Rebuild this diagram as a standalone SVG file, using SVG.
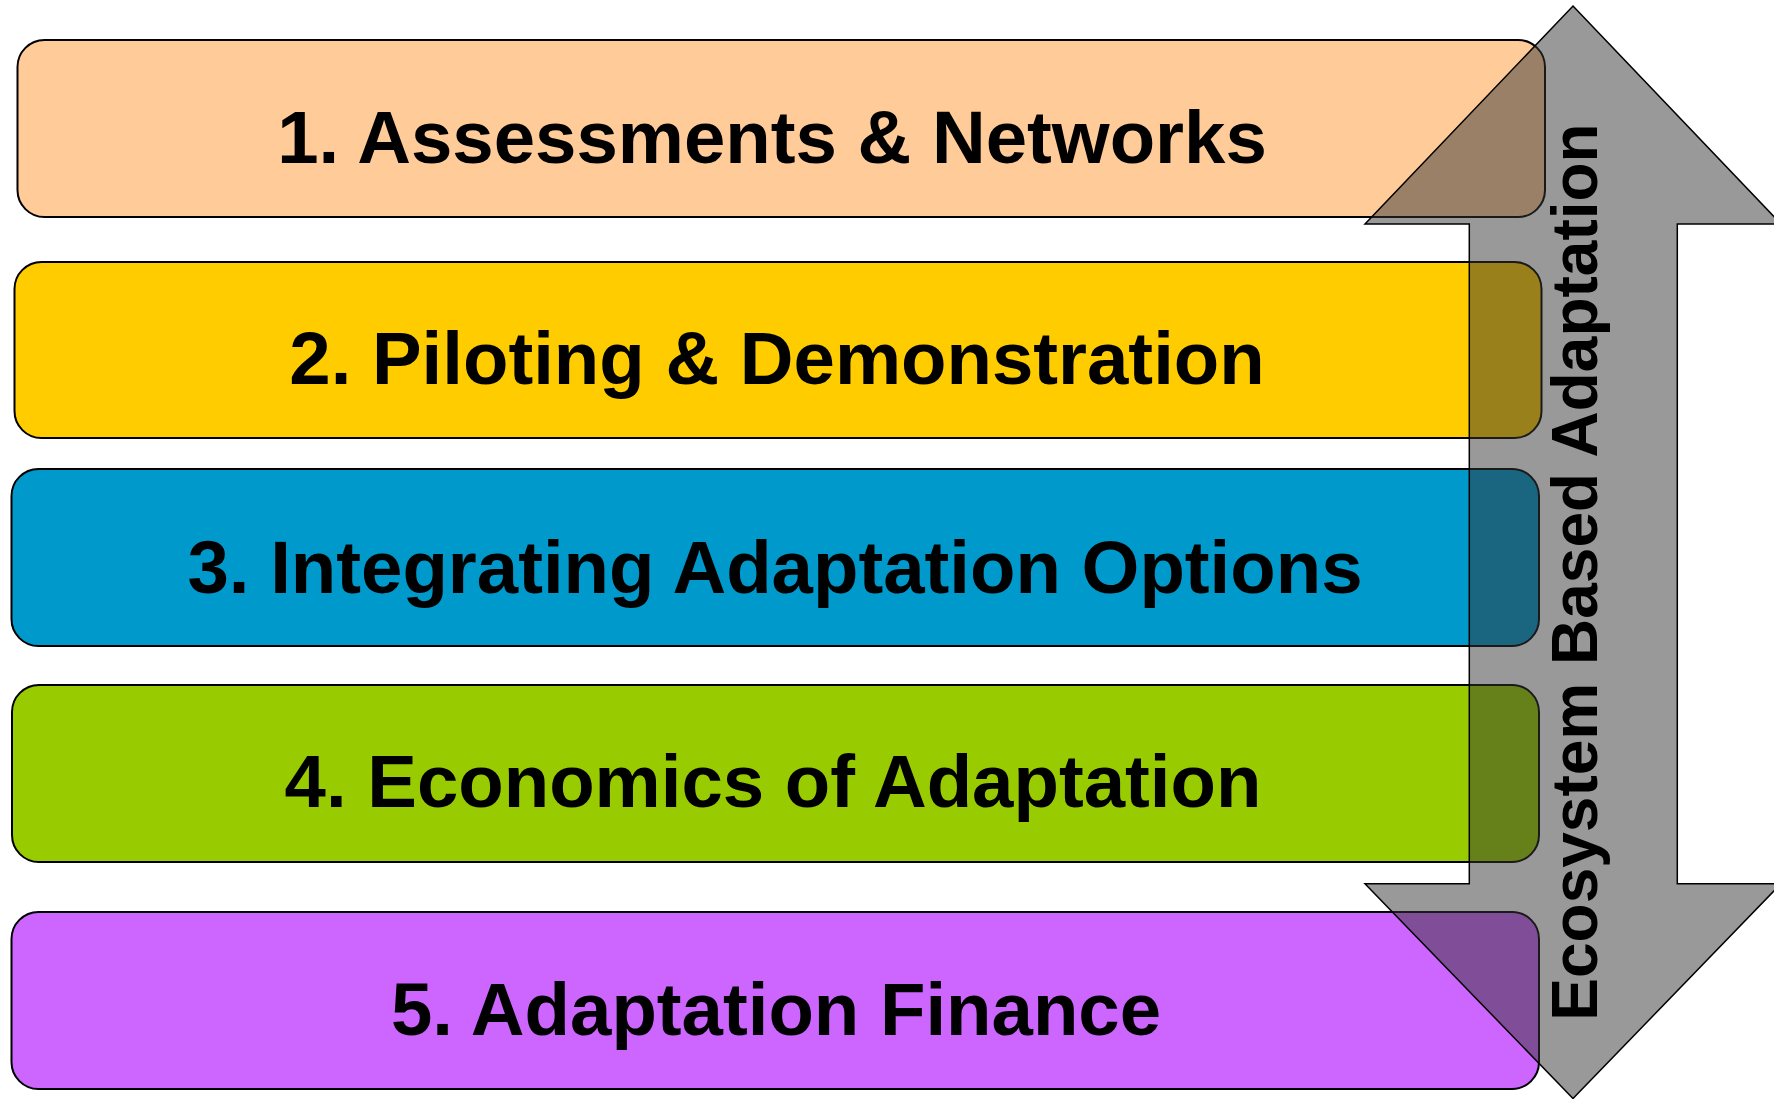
<svg xmlns="http://www.w3.org/2000/svg" width="1774" height="1099" viewBox="0 0 1774 1099">
  <style>
    .box { stroke: #000; stroke-width: 2; }
    .label { font-family: "Liberation Sans", Arial, sans-serif; font-weight: bold; font-size: 74.4px; fill: #000; text-anchor: middle; }
    .side { font-family: "Liberation Sans", Arial, sans-serif; font-weight: bold; font-size: 64px; fill: #000; text-anchor: middle; }
    .arrow { fill: #333333; fill-opacity: 0.5; stroke: #000; stroke-width: 1.5; stroke-linejoin: miter; }
  </style>
  <rect width="1774" height="1099" fill="#fff"/>

  <g id="node-1">
    <rect class="box" x="17.5" y="40" width="1527.5" height="177" rx="27" fill="#FFCC99"/>
    <text class="label" x="772" y="163">1. Assessments &amp; Networks</text>
  </g>
  <g id="node-2">
    <rect class="box" x="14.5" y="262" width="1527" height="176" rx="27" fill="#FFCC00"/>
    <text class="label" x="777" y="384">2. Piloting &amp; Demonstration</text>
  </g>
  <g id="node-3">
    <rect class="box" x="11.5" y="469" width="1527.5" height="177" rx="27" fill="#0099CC"/>
    <text class="label" x="775" y="593">3. Integrating Adaptation Options</text>
  </g>
  <g id="node-4">
    <rect class="box" x="12" y="685" width="1527" height="177" rx="27" fill="#99CC00"/>
    <text class="label" x="773" y="807">4. Economics of Adaptation</text>
  </g>
  <g id="node-5">
    <rect class="box" x="11.5" y="912" width="1527.5" height="177" rx="27" fill="#CC66FF"/>
    <text class="label" x="776" y="1035">5. Adaptation Finance</text>
  </g>

  <g id="connectors">
    <polygon class="arrow" points="1573,6 1781,224 1677.3,224 1677.3,883.7 1781,883.7 1573,1098.5 1365,883.7 1469.3,883.7 1469.3,224 1365,224"/>
    <text class="side" transform="translate(1597,572) rotate(-90)">Ecosystem Based Adaptation</text>
  </g>
</svg>
